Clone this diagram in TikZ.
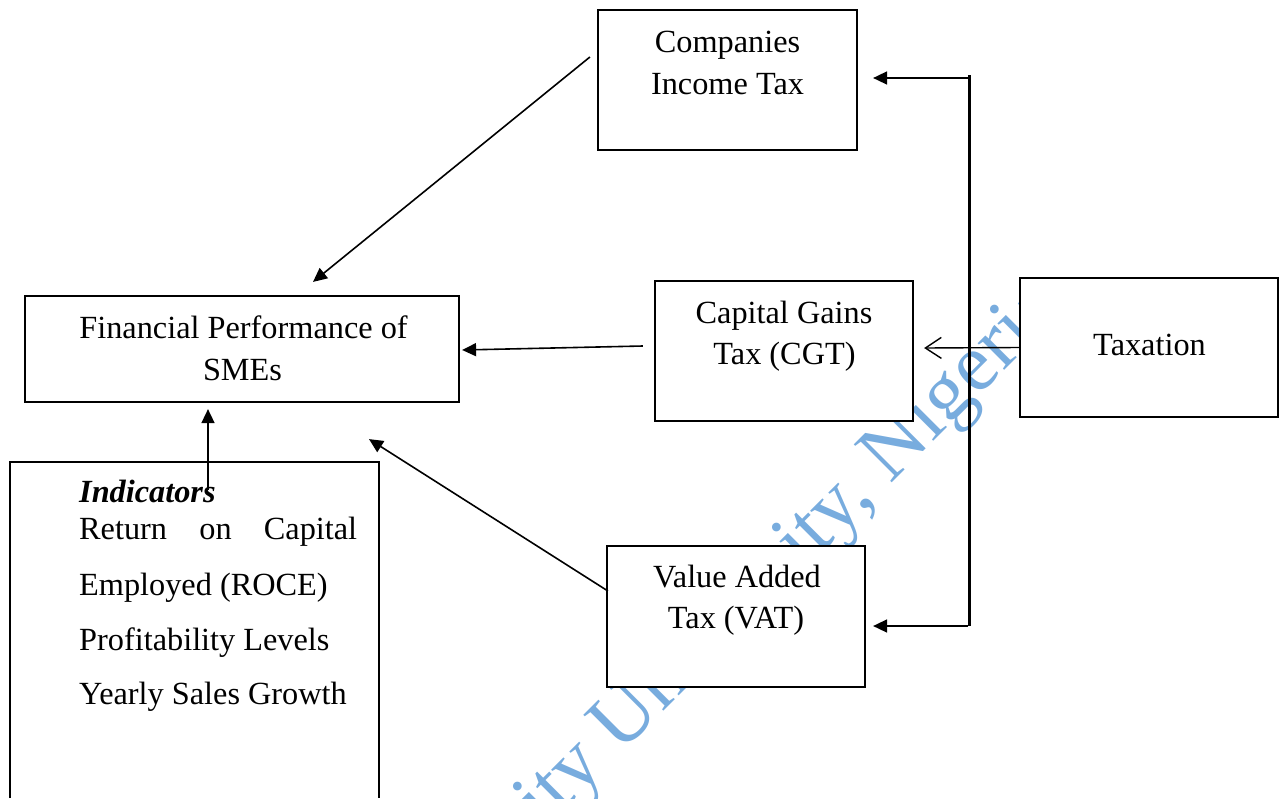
\documentclass[tikz,border=0pt]{standalone}
\usepackage{fontspec}
\setmainfont{Liberation Serif}
\usetikzlibrary{arrows.meta,calc}
\definecolor{wm}{RGB}{120,172,222}
\begin{document}
\begin{tikzpicture}[x=1pt,y=-1pt,
  box/.style={draw,line width=2.2pt,fill=white,inner sep=0pt},
  txt/.style={font=\fontsize{32.3}{42}\selectfont,anchor=base,inner sep=0pt},
  arr/.style={line width=1.6pt,-{Triangle[length=14pt,width=13pt]}},
  oarr/.style={line width=1.4pt,-{Straight Barb[length=16pt,width=21pt,line width=1.4pt]}}]
\useasboundingbox (0,0) rectangle (1281,798);
% watermark
\begin{scope}
\clip (0,0) rectangle (1281,798);
\node[font=\fontsize{82}{82}\selectfont,text=wm,rotate=45,anchor=base west,inner sep=0pt] (wmark) at (545,830) {ity University, Nigeria};
\end{scope}
% junction line
\coordinate (jt) at (969,75);
\coordinate (jb) at (969,626);
\draw[line width=3pt] (jt) -- (jb);
% boxes
\node[box,minimum width=259pt,minimum height=140pt] (cit) at (727.5,80) {};
\node[box,minimum width=434pt,minimum height=106pt] (fp) at (242,349) {};
\node[box,minimum width=258pt,minimum height=140pt] (cgt) at (784,351) {};
\node[box,minimum width=258pt,minimum height=139pt] (tax) at (1149,347.5) {};
\node[box,minimum width=258pt,minimum height=141pt] (vat) at (736,616.5) {};
\node[fill=white,inner sep=0pt,minimum width=369pt,minimum height=336pt] (ind) at (194.5,630) {};
\draw[line width=2.2pt] (ind.south west) -- (ind.north west) -- (ind.north east) -- (ind.south east);
% texts
\node[txt] (t1) at (727.5,52) {Companies};
\node[txt] (t2) at (727.5,94) {Income Tax};
\node[txt] (t3) at (243.5,338) {Financial Performance of};
\node[txt] (t4) at (242.5,380) {SMEs};
\node[txt] (t5) at (784,323) {Capital Gains};
\node[txt] (t6) at (784.5,364) {Tax (CGT)};
\node[txt] (t7) at (1149.5,355) {Taxation};
\node[txt] (t8) at (737,587) {Value Added};
\node[txt] (t9) at (736,628) {Tax (VAT)};
\node[txt,anchor=base west] (i0) at (79,502) {\textbf{\textit{Indicators}}};
\node[txt,anchor=base west] (i1) at (79,539) {\makebox[278pt][s]{Return\hfill on\hfill Capital}};
\node[txt,anchor=base west] (i2) at (79,595) {Employed (ROCE)};
\node[txt,anchor=base west] (i3) at (79,650) {Profitability Levels};
\node[txt,anchor=base west] (i4) at (79,704) {Yearly Sales Growth};
% connectors
\draw[arr] ($(cit.west)+(-7,-23)$) -- ($(fp.north)+(71,-13)$);
\draw[arr] ($(cgt.west)+(-11,-5)$) -- ($(fp.east)+(2,1)$);
\draw[arr] ($(vat.west)+(2,-25.5)$) -- ($(fp.south)+(127,36)$);
\draw[arr] ($(ind.north)+(13.5,28)$) -- ($(fp.south)+(-34,6)$);
\draw[oarr] (tax.west) -- ($(cgt.east)+(10,-3)$);
\draw[arr] ($(jt)+(-1,3)$) -- ($(cit.east)+(15,-2)$);
\draw[arr] ($(jb)+(-1,0)$) -- ($(vat.east)+(7,9.5)$);
\end{tikzpicture}
\end{document}
